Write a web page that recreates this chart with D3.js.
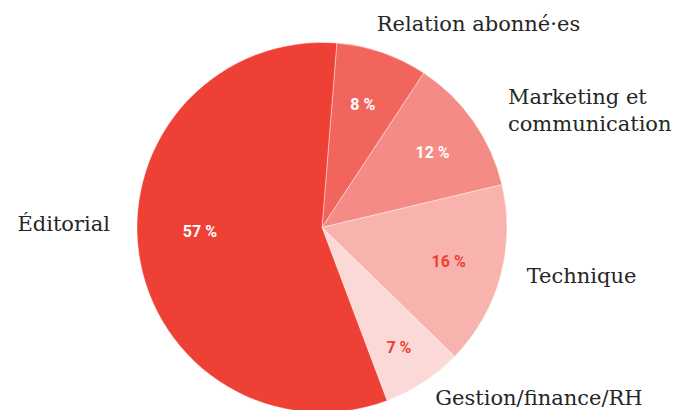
<!DOCTYPE html>
<html>
<head>
<meta charset="utf-8">
<script src="https://cdn.jsdelivr.net/npm/d3@7"></script>
<style>
  html, body { margin: 0; padding: 0; background: #fff; }
  svg { display: block; }
  .cat { font-family: "DejaVu Serif", serif; font-size: 21px; fill: #262626; }
  .pct { font-family: Roboto, "Noto Sans", sans-serif; font-weight: 700; font-size: 16px; }
</style>
</head>
<body>
<svg id="chart" width="677" height="410"></svg>
<script>
// Répartition des effectifs par pôle (%)
const categories = ["Relation abonné·es", "Marketing et communication", "Technique", "Gestion/finance/RH", "Éditorial"];
const shares = [8, 12, 16, 7, 57];
const sliceColors = ["#f2655d", "#f58b85", "#f8b3af", "#fbd9d7", "#ef4036"];
const valueColors = ["#ffffff", "#ffffff", "#ef4036", "#ef4036", "#ffffff"];

const width = 677, height = 410;
const cx = 322, cy = 227.5, radius = 185;
const startAngle = 4.6 * Math.PI / 180;

const svg = d3.select("#chart");
const g = svg.append("g").attr("transform", `translate(${cx},${cy})`);

const data = categories.map((c, i) => ({ name: c, value: shares[i], color: sliceColors[i], text: valueColors[i] }));

const pie = d3.pie()
  .value(d => d.value)
  .sort(null)
  .startAngle(startAngle)
  .endAngle(startAngle + 2 * Math.PI);

const arcs = pie(data);
const arc = d3.arc().innerRadius(0).outerRadius(radius);
const valueArc = d3.arc().innerRadius(radius * 0.71).outerRadius(radius * 0.71);
const outerArc = d3.arc().innerRadius(radius + 20).outerRadius(radius + 20);

g.selectAll("path.slice")
  .data(arcs)
  .join("path")
  .attr("class", "slice")
  .attr("d", arc)
  .attr("fill", d => d.data.color)
  .attr("stroke", "#fff")
  .attr("stroke-width", 0.4);

// Percentage inside each slice, with small shifts for the widest and narrowest slices
const valueNudge = {
  "Relation abonné·es": [-2, 1],
  "Marketing et communication": [3, 0],
  "Technique": [0, -1],
  "Gestion/finance/RH": [5, 10],
  "Éditorial": [8, -15]
};

g.selectAll("text.pct")
  .data(arcs)
  .join("text")
  .attr("class", "pct")
  .attr("transform", d => {
    const [x, y] = valueArc.centroid(d);
    const [dx, dy] = valueNudge[d.data.name];
    return `translate(${x + dx},${y + dy})`;
  })
  .attr("text-anchor", "middle")
  .attr("dy", "0.36em")
  .attr("fill", d => d.data.text)
  .text(d => `${d.data.value}\u00a0%`);

// Category names outside the pie, nudged clear of the rim
const nudge = {
  "Relation abonné·es": [-12, -3, "start"],
  "Marketing et communication": [18, -6, "start"],
  "Technique": [7, 1, "start"],
  "Gestion/finance/RH": [1, 6, "start"],
  "Éditorial": [-9, -25, "end"]
};
const wrapAt = { "Marketing et communication": ["Marketing et", "communication"] };

g.selectAll("text.cat")
  .data(arcs)
  .join("text")
  .attr("class", "cat")
  .each(function (d) {
    const [x, y] = outerArc.centroid(d);
    const [dx, dy, anchor] = nudge[d.data.name];
    const t = d3.select(this)
      .attr("x", x + dx)
      .attr("y", y + dy)
      .attr("text-anchor", anchor);
    const lines = wrapAt[d.data.name] || [d.data.name];
    t.selectAll("tspan")
      .data(lines)
      .join("tspan")
      .attr("x", x + dx)
      .attr("dy", (l, i) => i === 0 ? 0 : 27.5)
      .text(l => l);
  });
</script>
</body>
</html>
